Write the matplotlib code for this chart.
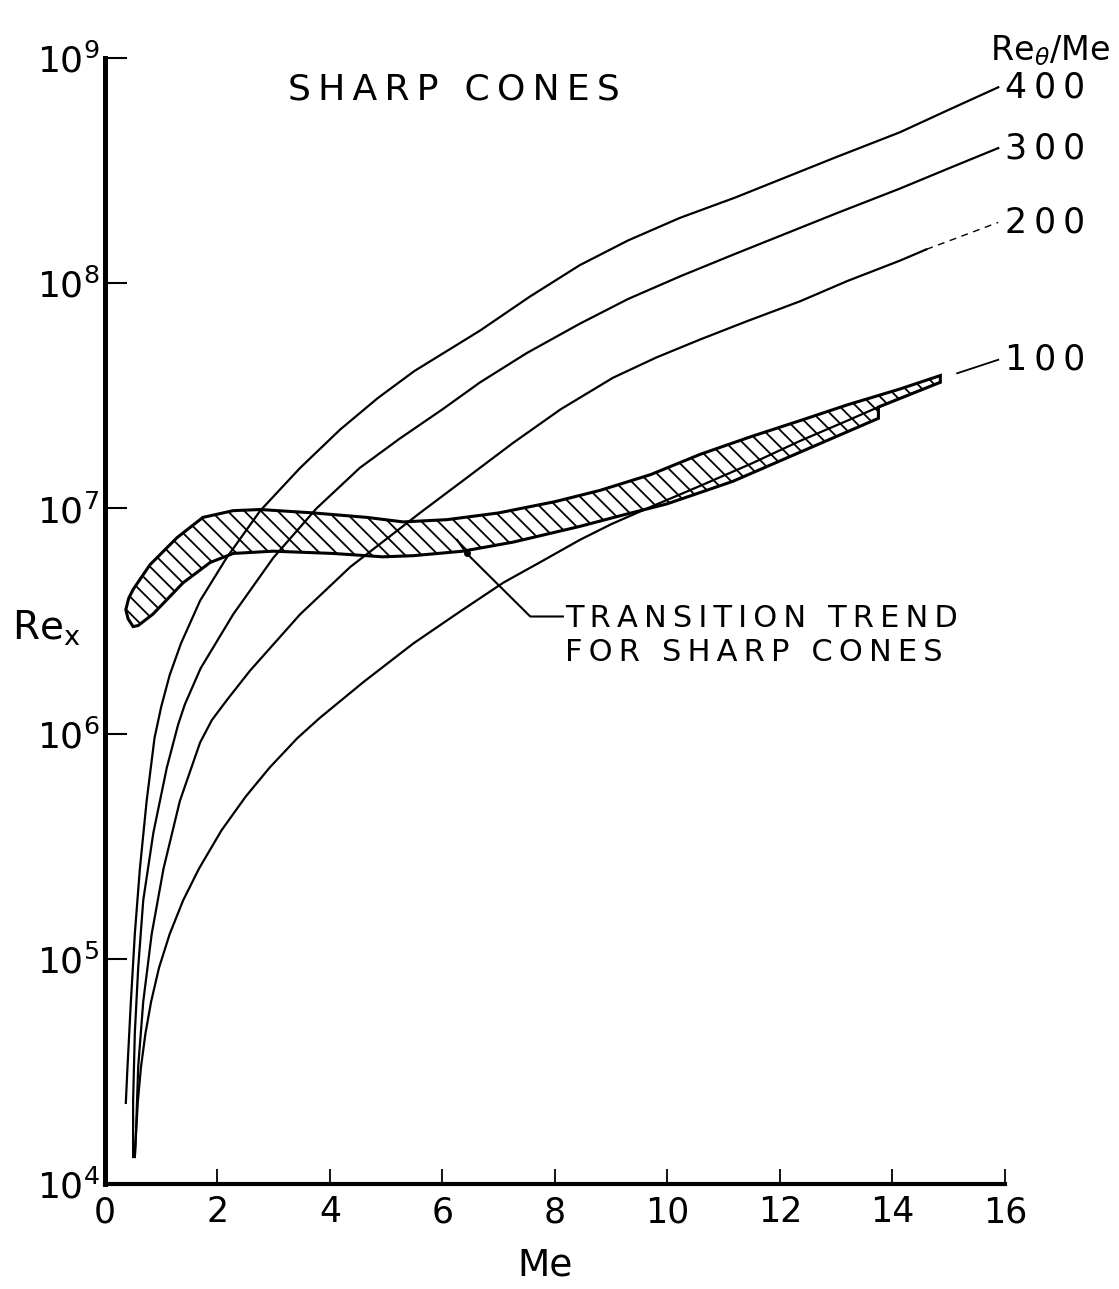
import matplotlib
matplotlib.use('Agg')
import matplotlib.pyplot as plt
import numpy as np

# curves of Re_theta/Me = const (Me, log10 Re_x)
me_400 = [0.37, 0.40, 0.46, 0.53, 0.62, 0.74, 0.88, 1.00, 1.15, 1.35, 1.69, 2.16, 2.76, 3.47, 4.18,
          4.85, 5.5, 6.67, 7.55, 8.44, 9.3, 10.22, 11.2, 12.0, 13.0, 14.13, 15.0, 15.88]
lg_400 = [4.36, 4.52, 4.81, 5.11, 5.40, 5.70, 5.98, 6.12, 6.26, 6.40, 6.59, 6.78, 6.99, 7.18, 7.35,
          7.49, 7.61, 7.79, 7.94, 8.08, 8.19, 8.29, 8.38, 8.46, 8.56, 8.67, 8.77, 8.87]

me_300 = [0.50, 0.50, 0.53, 0.59, 0.68, 0.86, 1.10, 1.30, 1.42, 1.70, 2.28, 2.99, 3.76, 4.53, 5.24,
          6.0, 6.67, 7.5, 8.44, 9.3, 10.22, 11.2, 12.0, 13.0, 14.13, 15.0, 15.88]
lg_300 = [4.12, 4.37, 4.67, 4.96, 5.26, 5.56, 5.85, 6.04, 6.13, 6.29, 6.53, 6.78, 7.00, 7.18, 7.31,
          7.44, 7.56, 7.69, 7.82, 7.93, 8.03, 8.13, 8.21, 8.31, 8.42, 8.51, 8.60]

me_200 = [0.53, 0.55, 0.59, 0.68, 0.83, 1.04, 1.33, 1.69, 1.90, 2.17, 2.58, 3.47, 4.36, 5.24, 5.6,
          6.4, 7.25, 8.1, 9.03, 9.8, 10.58, 11.4, 12.36, 13.2, 14.13, 14.6]
lg_200 = [4.12, 4.22, 4.52, 4.81, 5.11, 5.40, 5.70, 5.96, 6.06, 6.15, 6.28, 6.53, 6.74, 6.91, 6.98,
          7.13, 7.29, 7.44, 7.58, 7.67, 7.75, 7.83, 7.92, 8.01, 8.10, 8.15]
me_200_tail = [14.6, 15.88]
lg_200_tail = [8.15, 8.27]

me_100 = [0.53, 0.55, 0.585, 0.64, 0.72, 0.82, 0.96, 1.15, 1.39, 1.67, 2.07, 2.50, 2.93, 3.42, 3.82,
          4.6, 5.48, 6.3, 7.08, 7.8, 8.44, 9.0, 9.64, 10.58, 11.5, 12.36, 13.2, 13.75, 14.85]
lg_100 = [4.12, 4.22, 4.37, 4.52, 4.67, 4.81, 4.96, 5.11, 5.26, 5.40, 5.57, 5.72, 5.85, 5.98, 6.07,
          6.23, 6.40, 6.54, 6.67, 6.77, 6.86, 6.93, 7.00, 7.10, 7.20, 7.30, 7.39, 7.45, 7.56]
me_100_tail = [15.15, 15.88]
lg_100_tail = [7.60, 7.66]

# transition band (upper and lower edges)
band_up_me = [0.37, 0.42, 0.50, 0.80, 1.28, 1.74, 2.28, 2.76, 3.70, 4.66, 5.3, 6.08, 7.0, 8.0,
              8.8, 9.7, 10.58, 11.5, 12.36, 13.2, 14.13, 14.85]
band_up_lg = [6.55, 6.60, 6.64, 6.75, 6.87, 6.96, 6.99, 6.995, 6.98, 6.96, 6.94, 6.95, 6.98, 7.03,
              7.08, 7.15, 7.24, 7.32, 7.39, 7.46, 7.53, 7.59]
band_lo_me = [0.41, 0.50, 0.59, 0.85, 1.39, 1.87, 2.28, 2.99, 4.05, 4.94, 5.48, 6.36, 7.25, 8.44,
              9.2, 9.99, 11.16, 12.36, 13.75]
band_lo_lg = [6.51, 6.475, 6.48, 6.53, 6.67, 6.76, 6.80, 6.81, 6.80, 6.785, 6.79, 6.81, 6.85, 6.92,
              6.97, 7.02, 7.12, 7.25, 7.40]

# leader line of the note
lead_me = [6.26, 6.43, 7.56, 8.14]
lead_lg = [6.86, 6.80, 6.52, 6.52]

curve_labels = ['400', '300', '200', '100']
x_ticks = [0, 2, 4, 6, 8, 10, 12, 14, 16]
y_exps = [4, 5, 6, 7, 8, 9]


def spaced(s):
    # lettering in the original is widely spaced
    return '\u2009'.join(s)


plt.rcParams['hatch.linewidth'] = 1.3

fig = plt.figure(figsize=(11.19, 12.89), dpi=100)
ax = fig.add_axes([105/1119, 1 - 1184/1289, 900/1119, 1126/1289])
ax.set_yscale('log')
ax.set_xlim(0, 16)
ax.set_ylim(1e4, 1e9)

# band
poly_me = band_up_me + [me_100[-1], me_100[-2]] + band_lo_me[::-1]
poly_lg = band_up_lg + [lg_100[-1], lg_100[-2]] + band_lo_lg[::-1]
ax.fill(poly_me, 10**np.array(poly_lg), facecolor='none', edgecolor='black',
        hatch='\\\\', lw=2.2, zorder=2)

lw = 1.6
for me, lg in [(me_400, lg_400), (me_300, lg_300), (me_200, lg_200), (me_100, lg_100)]:
    ax.plot(me, 10**np.array(lg), color='black', lw=lw, zorder=3)
ax.plot(me_200_tail, 10**np.array(lg_200_tail), color='black', lw=1.0, ls=(0, (5, 4)), zorder=3)
ax.plot(me_100_tail, 10**np.array(lg_100_tail), color='black', lw=1.3, zorder=3)

ax.plot(lead_me, 10**np.array(lead_lg), color='black', lw=1.5, zorder=3)
ax.plot(lead_me[1], 10**lead_lg[1], 'o', color='black', ms=4, zorder=4)

# labels at line ends
ends = [lg_400[-1], lg_300[-1], lg_200_tail[-1], lg_100_tail[-1]]
for lab, lg in zip(curve_labels, ends):
    ax.text(16.0, 10**lg, spaced(lab), ha='left', va='center', fontsize=25, clip_on=False)

ax.text(3.25, 10**8.86, spaced('SHARP CONES'), ha='left', va='center', fontsize=26)
ax.text(8.18, 10**6.51, spaced('TRANSITION TREND'), ha='left', va='center', fontsize=22)
ax.text(8.18, 10**6.36, spaced('FOR SHARP CONES'), ha='left', va='center', fontsize=22)

fig.text(1110/1119, 1 - 60/1289, r'Re$_\theta$/Me', ha='right', va='baseline', fontsize=24)
fig.text(12/1119, 1 - 628/1289, r'$\mathregular{Re_x}$', ha='left', va='center', fontsize=28)
fig.text(545/1119, 1 - 1265/1289, 'Me', ha='center', va='center', fontsize=27)

ax.spines['top'].set_visible(False)
ax.spines['right'].set_visible(False)
ax.spines['left'].set_linewidth(3.6)
ax.spines['bottom'].set_linewidth(3.0)

ax.set_xticks(x_ticks)
ax.set_xticklabels([str(t) for t in x_ticks], fontsize=25)
ax.set_yticks([10.0**e for e in y_exps])
ax.set_yticklabels([r'$\mathregular{10^{%d}}$' % e for e in y_exps], fontsize=26)
ax.yaxis.set_minor_locator(matplotlib.ticker.NullLocator())
ax.tick_params(axis='x', direction='in', length=11, width=1.3, pad=8)
ax.tick_params(axis='y', direction='in', length=16, width=1.5, pad=4)

plt.savefig('out.png', dpi=100)
